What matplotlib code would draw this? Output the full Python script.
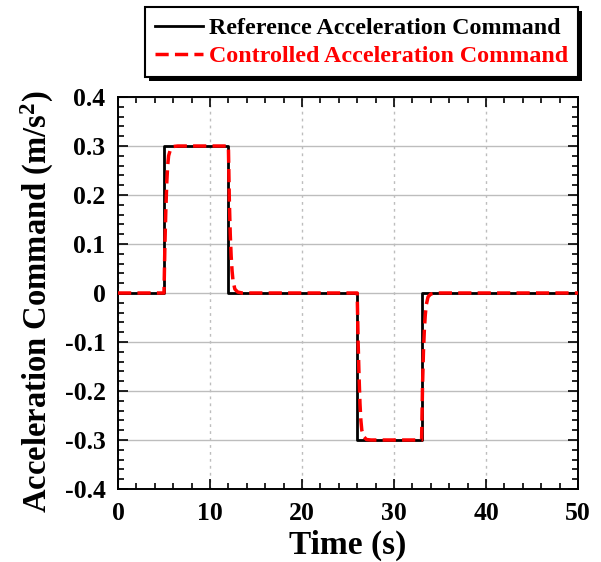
"""
Acceleration command tracking: reference step profile vs controlled response.
"""
import numpy as np
import matplotlib.pyplot as plt
from matplotlib.patches import Rectangle
from matplotlib.ticker import MultipleLocator

# --- data ---
ref_t = [0, 5, 5, 12, 12, 26, 26, 33, 33, 50]
ref_acc = [0, 0, 0.3, 0.3, 0, 0, -0.3, -0.3, 0, 0]

ctrl_t = [0, 5.0, 5.1, 5.2, 5.3, 5.4, 5.5, 5.7, 6.0, 6.5,
          12.0, 12.1, 12.2, 12.3, 12.4, 12.5, 12.7, 13.0, 13.5,
          26.0, 26.1, 26.2, 26.3, 26.4, 26.5, 26.7, 27.0, 27.5,
          33.0, 33.1, 33.2, 33.3, 33.4, 33.5, 33.7, 34.0, 34.5, 50]
ctrl_acc = [0, 0, 0.10, 0.17, 0.225, 0.26, 0.28, 0.293, 0.299, 0.3,
            0.3, 0.19, 0.12, 0.075, 0.045, 0.025, 0.008, 0.002, 0,
            0, -0.10, -0.17, -0.225, -0.26, -0.28, -0.293, -0.299, -0.3,
            -0.3, -0.19, -0.12, -0.075, -0.045, -0.025, -0.008, -0.002, 0, 0]

labels = ["Reference Acceleration Command", "Controlled Acceleration Command"]
ytick_vals = [-0.4, -0.3, -0.2, -0.1, 0, 0.1, 0.2, 0.3, 0.4]
ytick_text = ['-0.4', '-0.3', '-0.2', '-0.1', '0', '0.1', '0.2', '0.3', '0.4']

# --- style ---
plt.rcParams['font.family'] = ['Liberation Serif', 'DejaVu Serif']
plt.rcParams['font.weight'] = 'bold'
plt.rcParams['mathtext.fontset'] = 'custom'
plt.rcParams['mathtext.rm'] = 'Liberation Serif:bold'
plt.rcParams['mathtext.it'] = 'Liberation Serif:bold'
plt.rcParams['mathtext.bf'] = 'Liberation Serif:bold'

fig = plt.figure(figsize=(6.01, 5.62), dpi=100)
ax = fig.add_axes([118 / 601, 1 - 489 / 562, 460 / 601, 392 / 562])

ax.plot(ref_t, ref_acc, color='black', lw=2.0, label=labels[0], zorder=3)
ax.plot(ctrl_t, ctrl_acc, color='red', lw=2.5, dashes=(3.8, 1.8),
        label=labels[1], zorder=4)

ax.set_xlim(0, 50)
ax.set_ylim(-0.4, 0.4)
ax.xaxis.set_major_locator(MultipleLocator(10))
ax.xaxis.set_minor_locator(MultipleLocator(2))
ax.yaxis.set_minor_locator(MultipleLocator(0.02))
ax.set_yticks(ytick_vals)
ax.set_yticklabels(ytick_text)

ax.tick_params(which='both', direction='in', top=True, right=True,
               labelsize=18.5, width=1.2)
ax.tick_params(axis='x', pad=9)
ax.tick_params(axis='y', pad=9)
ax.tick_params(which='major', length=7)
ax.tick_params(which='minor', length=4)
for lab in ax.get_xticklabels() + ax.get_yticklabels():
    lab.set_fontweight('bold')

for s in ax.spines.values():
    s.set_linewidth(1.4)

# horizontal grid solid, vertical grid dotted
ax.yaxis.grid(True, which='major', color='#bdbdbd', lw=1.0, ls='-')
ax.xaxis.grid(True, which='major', color='#bdbdbd', lw=1.0, ls=(0, (2, 3)))
ax.set_axisbelow(True)

ax.set_xlabel("Time (s)", fontsize=24, fontweight='bold', labelpad=4)
ax.set_ylabel("Acceleration Command (m/s$^{2}$)", fontsize=23.5,
              fontweight='bold')
ax.yaxis.set_label_coords((56 - 118) / 460, (489 - 302) / 392)

leg = fig.legend(loc='upper right', bbox_to_anchor=(578 / 601, 1 - 7 / 562),
                 fontsize=17.3, frameon=True, fancybox=False, shadow=False,
                 edgecolor='black', framealpha=1, handlelength=2.0,
                 labelcolor=['black', 'red'], borderpad=0.42,
                 borderaxespad=0, labelspacing=0.27, handletextpad=0.25)
leg.get_frame().set_linewidth(1.5)
leg.set_zorder(10)
for t in leg.get_texts():
    t.set_fontweight('bold')

# solid black drop shadow behind the legend box
fig.canvas.draw()
bb = leg.get_window_extent().transformed(fig.transFigure.inverted())
dx, dy = 4 / 601, 4 / 562
fig.add_artist(Rectangle((bb.x0 + dx, bb.y0 - dy), bb.width, bb.height,
                         transform=fig.transFigure, facecolor='black',
                         edgecolor='none', zorder=9))

fig.savefig("out.png", dpi=100)
